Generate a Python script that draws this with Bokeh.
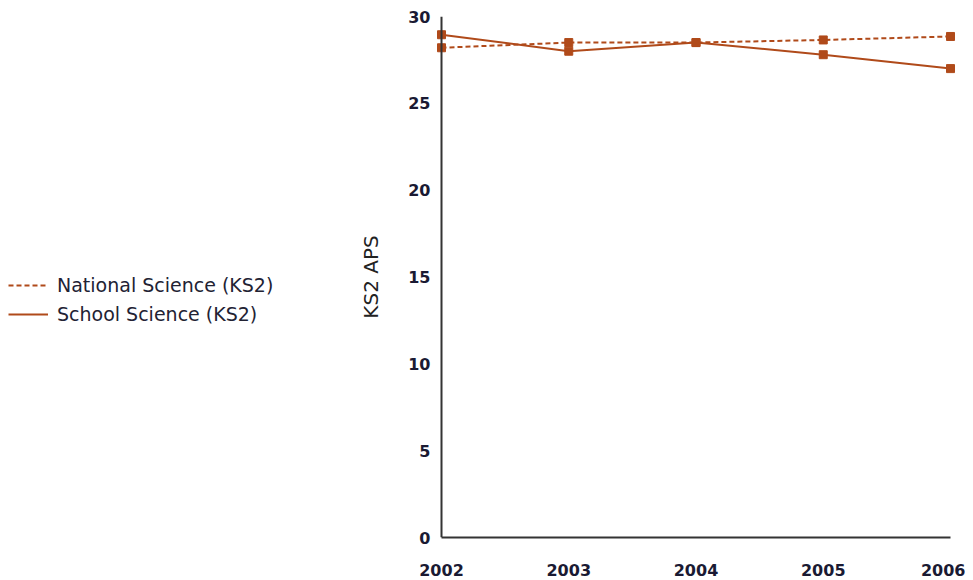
from bokeh.plotting import figure
from bokeh.layouts import row
from bokeh.models import Legend, LegendItem, FixedTicker, Range1d, Span
from bokeh.embed import file_html
from bokeh.resources import INLINE

years = [2002, 2003, 2004, 2005, 2006]
national = [28.2, 28.5, 28.5, 28.65, 28.85]
school = [28.95, 28.0, 28.5, 27.8, 27.0]
yticks = [0, 5, 10, 15, 20, 25, 30]
series_names = ["National Science (KS2)", "School Science (KS2)"]

color = "#b04a1a"
FONT = "DejaVu Sans"
PAD = 5                      # px of room so edge markers are not clipped
SPAN = 509                   # px between first and last year
scale = SPAN / (years[-1] - years[0])
BORDER_L = 110
LEG_W = 441 - PAD - BORDER_L

p = figure(frame_width=SPAN + 2 * PAD, frame_height=521, output_backend="svg", toolbar_location=None,
           x_range=Range1d(years[0] - PAD / scale, years[-1] + PAD / scale), y_range=Range1d(0, 30),
           min_border_left=BORDER_L, min_border_right=10, min_border_top=16, min_border_bottom=43)
p.outline_line_color = None
p.xgrid.visible = False
p.ygrid.visible = False

# vertical axis line drawn at the first year
p.add_layout(Span(location=years[0], dimension="height", line_color="#333333", line_width=2))

p.line(years, national, line_color=color, line_width=2, line_dash="5 3")
p.scatter(years, national, marker="square", size=8, color=color)
p.line(years, school, line_color=color, line_width=2)
p.scatter(years, school, marker="square", size=8, color=color)

for ax in (p.xaxis[0], p.yaxis[0]):
    ax.major_tick_line_color = None
    ax.minor_tick_line_color = None
    ax.axis_line_color = "#333333"
    ax.axis_line_width = 2
    ax.major_label_text_font = FONT
    ax.major_label_text_font_size = "16px"
    ax.major_label_text_font_style = "bold"
    ax.major_label_text_color = "#1a1a33"

p.yaxis.axis_line_color = None
p.xaxis.ticker = FixedTicker(ticks=years)
p.xaxis.bounds = (years[0], years[-1])
p.yaxis.ticker = FixedTicker(ticks=yticks)
p.xaxis.major_label_standoff = 20
p.yaxis.major_label_standoff = 0
p.yaxis.axis_label = "KS2 APS"
p.yaxis.axis_label_text_font = FONT
p.yaxis.axis_label_text_font_size = "20px"
p.yaxis.axis_label_text_font_style = "normal"
p.yaxis.axis_label_text_color = "#222222"
p.yaxis.axis_label_standoff = 22

# legend-only figure on the left
lf = figure(width=LEG_W, height=580, output_backend="svg", toolbar_location=None,
            x_range=Range1d(0, 1), y_range=Range1d(0, 1),
            min_border=0)
lf.axis.visible = False
lf.grid.visible = False
lf.outline_line_color = None
r1 = lf.line([-10, -9], [-10, -9], line_color=color, line_width=2, line_dash="5 3")
r2 = lf.line([-10, -9], [-10, -9], line_color=color, line_width=2)
legend = Legend(items=[LegendItem(label=series_names[0], renderers=[r1]),
                       LegendItem(label=series_names[1], renderers=[r2])],
                location=(8, 212), border_line_color=None, background_fill_alpha=0,
                label_text_font=FONT, label_text_font_size="19px", label_text_color="#222233",
                glyph_width=40, spacing=7, padding=0, margin=0, label_standoff=9)
lf.add_layout(legend)

layout = row(lf, p)
open("out.html", "w").write(file_html(layout, INLINE))
